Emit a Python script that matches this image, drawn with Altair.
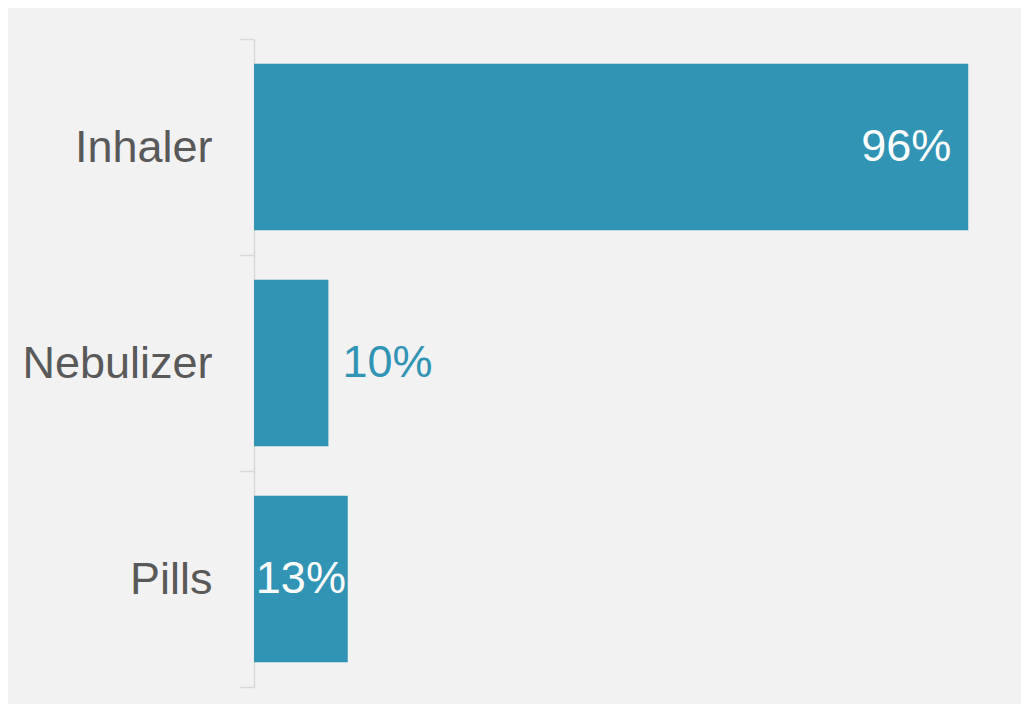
import altair as alt
import pandas as pd

categories = ["Inhaler", "Nebulizer", "Pills"]
shares = [0.96, 0.10, 0.126]

df = pd.DataFrame({"method": categories, "share": shares})

BAR = "#3194b5"
FONT = "Liberation Sans"

y_scale = alt.Scale(paddingInner=0, paddingOuter=0)
y_enc = alt.Y(
    "method:N",
    sort=categories,
    title=None,
    scale=y_scale,
    axis=alt.Axis(
        tickBand="extent",
        tickSize=15,
        tickColor="#d9d9d9",
        tickWidth=1.5,
        domainColor="#d9d9d9",
        domainWidth=1.5,
        labelFontSize=45,
        labelFont=FONT,
        labelColor="#595959",
        labelPadding=27,
        minExtent=246,
        maxExtent=246,
        labelLimit=300,
    ),
)
x_scale = alt.Scale(domain=[0, 1])

base = alt.Chart(df)

bars = base.mark_bar(color=BAR, height={"band": 0.77}).encode(
    y=y_enc,
    x=alt.X("share:Q", scale=x_scale, axis=None),
)

txt_kw = dict(fontSize=45, font=FONT, baseline="middle")
y_txt = alt.Y("method:N", sort=categories, scale=y_scale, title=None)

inside = base.transform_filter("datum.share >= 0.5").mark_text(
    align="right", dx=-17, color="white", **txt_kw
).encode(
    y=y_txt,
    x=alt.X("share:Q", scale=x_scale, axis=None),
    text=alt.Text("share:Q", format=".0%"),
)

middle = base.transform_filter("datum.share >= 0.12 && datum.share < 0.5").transform_calculate(
    half="datum.share / 2"
).mark_text(align="center", color="white", **txt_kw).encode(
    y=y_txt,
    x=alt.X("half:Q", scale=x_scale, axis=None),
    text=alt.Text("share:Q", format=".0%"),
)

outside = base.transform_filter("datum.share < 0.12").mark_text(
    align="left", dx=14, color=BAR, **txt_kw
).encode(
    y=y_txt,
    x=alt.X("share:Q", scale=x_scale, axis=None),
    text=alt.Text("share:Q", format=".0%"),
)

chart = (
    alt.layer(bars, inside, middle, outside)
    .properties(
        width=744,
        height=648,
        background="#f2f2f2",
        padding={"left": 0, "top": 9, "right": 23, "bottom": 16},
    )
    .configure_view(stroke=None)
)

chart.save("out.html", embed_options={"renderer": "svg", "actions": False})
